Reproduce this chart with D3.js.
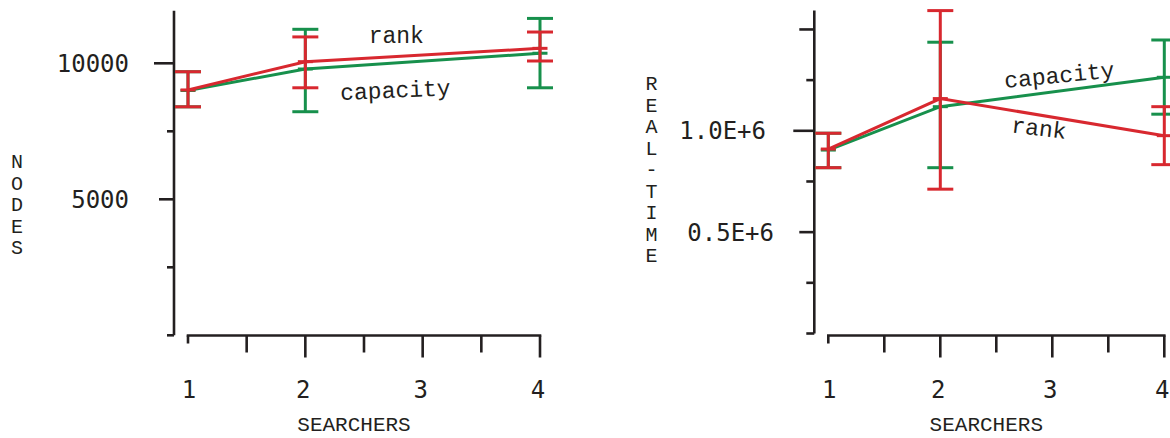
<!DOCTYPE html>
<html>
<head>
<meta charset="utf-8">
<script src="https://cdn.jsdelivr.net/npm/d3@7"></script>
<style>
  html, body { margin: 0; padding: 0; background: #ffffff; }
  svg { display: block; }
</style>
</head>
<body>
<svg id="chart" width="1170" height="438"></svg>
<script>
// Number of searchers at which each configuration was measured
const searchers = [1, 2, 4];
const xTickValues = [1, 2, 3, 4];
const xMinorTicks = [1.5, 2.5, 3.5];

// Nodes expanded (mean, low, high) per scheduling policy
const nodesRank = [9020, 10060, 10550];
const nodesRankLow = [8400, 9100, 10085];
const nodesRankHigh = [9690, 10970, 11150];
const nodesCapacity = [9000, 9790, 10370];
const nodesCapacityLow = [8400, 8220, 9100];
const nodesCapacityHigh = [9690, 11250, 11650];

// Real time (mean, low, high) per scheduling policy
const timeRank = [910000, 1159000, 976000];
const timeRankLow = [818000, 712000, 833000];
const timeRankHigh = [988000, 1593000, 1119000];
const timeCapacity = [905000, 1119000, 1264000];
const timeCapacityLow = [818000, 818000, 1082000];
const timeCapacityHigh = [988000, 1437000, 1448000];

// Y tick values and labels
const nodesTickValues = [0, 2500, 5000, 7500, 10000];
const nodesTickLabels = ["", "", "5000", "", "10000"];
const timeTickValues = [0, 250000, 500000, 750000, 1000000, 1250000, 1500000];
const timeTickLabels = ["", "", "0.5E+6", "", "1.0E+6", "", ""];

const RED = "#d8282f";
const GREEN = "#17904c";
const INK = "#231f20";
const NUM_FONT = "DejaVu Sans Mono, monospace";
const TXT_FONT = "'Liberation Mono', monospace";

const svg = d3.select("#chart");

function zip(mean, low, high) {
  return searchers.map((s, i) => ({ s, v: mean[i], lo: low[i], hi: high[i] }));
}

function drawPanel(cfg) {
  const g = svg.append("g");
  const x = d3.scaleLinear().domain([1, 4]).range(cfg.xRange);
  const y = d3.scaleLinear().domain(cfg.yDomain).range(cfg.yRange);

  // Y axis
  g.append("line")
    .attr("x1", cfg.yAxisX).attr("x2", cfg.yAxisX)
    .attr("y1", y(0)).attr("y2", y(cfg.yTop))
    .attr("stroke", INK).attr("stroke-width", 2.6);
  g.selectAll(".ytick").data(cfg.yTicks).join("line")
    .attr("x1", cfg.yAxisX).attr("x2", d => cfg.yAxisX - cfg.yTickLen(d))
    .attr("y1", d => y(d)).attr("y2", d => y(d))
    .attr("stroke", INK).attr("stroke-width", 2.6);
  g.selectAll(".ylab").data(cfg.yTicks.map((v, i) => ({ v, t: cfg.yLabels[i] })).filter(d => d.t))
    .join("text")
    .attr("x", d => cfg.yLabelX(d.v))
    .attr("y", d => y(d.v) + 8.5)
    .attr("text-anchor", "end")
    .attr("font-family", NUM_FONT).attr("font-size", 24)
    .attr("fill", INK)
    .text(d => d.t);

  // X axis
  g.append("line")
    .attr("x1", x(1) - 1.3).attr("x2", x(4) + 1.3)
    .attr("y1", cfg.xAxisY).attr("y2", cfg.xAxisY)
    .attr("stroke", INK).attr("stroke-width", 2.6);
  const xTicks = xTickValues.map(v => ({ v, len: v === 1 ? 8 : 22 }))
    .concat(xMinorTicks.map(v => ({ v, len: 17 })));
  g.selectAll(".xtick").data(xTicks).join("line")
    .attr("x1", d => x(d.v)).attr("x2", d => x(d.v))
    .attr("y1", cfg.xAxisY).attr("y2", d => cfg.xAxisY + d.len)
    .attr("stroke", INK).attr("stroke-width", 2.6);
  g.selectAll(".xlab").data(xTickValues).join("text")
    .attr("x", d => x(d) + (d === 1 ? 1 : -2))
    .attr("y", 398)
    .attr("text-anchor", "middle")
    .attr("font-family", NUM_FONT).attr("font-size", 24)
    .attr("fill", INK)
    .text(d => d);

  // Axis titles
  g.append("text")
    .attr("x", (x(1) + x(4)) / 2 - 10).attr("y", 431)
    .attr("text-anchor", "middle")
    .attr("font-family", TXT_FONT).attr("font-size", 21)
    .attr("fill", INK)
    .text("SEARCHERS");
  g.selectAll(".ytitle").data(cfg.yTitle.split("")).join("text")
    .attr("x", cfg.yTitleX)
    .attr("y", (d, i) => cfg.yTitleY + i * 21.5)
    .attr("text-anchor", "middle")
    .attr("font-family", TXT_FONT).attr("font-size", 20)
    .attr("fill", INK)
    .text(d => d);

  // Series: capacity underneath, rank on top
  const line = d3.line().x(d => x(d.s)).y(d => y(d.v));
  cfg.series.forEach(sr => {
    const sg = g.append("g");
    sg.append("path").datum(sr.data)
      .attr("d", line).attr("fill", "none")
      .attr("stroke", sr.color).attr("stroke-width", 3);
    sg.selectAll(".err").data(sr.data).join("line")
      .attr("x1", d => x(d.s)).attr("x2", d => x(d.s))
      .attr("y1", d => y(d.lo)).attr("y2", d => y(d.hi))
      .attr("stroke", sr.color).attr("stroke-width", 3);
    sg.selectAll(".capHi").data(sr.data).join("line")
      .attr("x1", d => x(d.s) - 13).attr("x2", d => x(d.s) + 13)
      .attr("y1", d => y(d.hi)).attr("y2", d => y(d.hi))
      .attr("stroke", sr.color).attr("stroke-width", 3);
    sg.selectAll(".capLo").data(sr.data).join("line")
      .attr("x1", d => x(d.s) - 13).attr("x2", d => x(d.s) + 13)
      .attr("y1", d => y(d.lo)).attr("y2", d => y(d.lo))
      .attr("stroke", sr.color).attr("stroke-width", 3);
    sg.selectAll(".mark").data(sr.data).join("line")
      .attr("x1", d => x(d.s) - 7.5).attr("x2", d => x(d.s) + 7.5)
      .attr("y1", d => y(d.v)).attr("y2", d => y(d.v))
      .attr("stroke", sr.color).attr("stroke-width", 3);
  });

  // Series names
  cfg.notes.forEach(n => {
    const px = x(n.x), py = y(n.y);
    g.append("text")
      .attr("x", px).attr("y", py)
      .attr("transform", `rotate(${n.angle},${px},${py})`)
      .attr("font-family", TXT_FONT).attr("font-size", 23)
      .attr("fill", INK)
      .text(n.text);
  });
}

drawPanel({
  xRange: [188, 540],
  yDomain: [0, 10000],
  yRange: [335.3, 63.3],
  yTop: 11930,
  yAxisX: 174,
  xAxisY: 335.5,
  yTicks: nodesTickValues,
  yLabels: nodesTickLabels,
  yTickLen: v => (v === 10000 ? 20 : v === 5000 ? 15 : 7),
  yLabelX: v => 129,
  yTitle: "NODES",
  yTitleX: 17,
  yTitleY: 168,
  series: [
    { color: GREEN, data: zip(nodesCapacity, nodesCapacityLow, nodesCapacityHigh) },
    { color: RED, data: zip(nodesRank, nodesRankLow, nodesRankHigh) }
  ],
  notes: [
    { text: "rank", x: 2.54, y: 10746, angle: 0 },
    { text: "capacity", x: 2.30, y: 8650, angle: -2.5 }
  ]
});

drawPanel({
  xRange: [828.3, 1164.3],
  yDomain: [0, 1000000],
  yRange: [333.5, 130.8],
  yTop: 1593000,
  yAxisX: 814.3,
  xAxisY: 335.5,
  yTicks: timeTickValues,
  yLabels: timeTickLabels,
  yTickLen: v => (v === 1000000 ? 21 : v === 500000 || v === 1500000 ? 15 : 8),
  yLabelX: v => (v === 1000000 ? 766 : 774),
  yTitle: "REAL-TIME",
  yTitleX: 651.5,
  yTitleY: 90,
  series: [
    { color: GREEN, data: zip(timeCapacity, timeCapacityLow, timeCapacityHigh) },
    { color: RED, data: zip(timeRank, timeRankLow, timeRankHigh) }
  ],
  notes: [
    { text: "capacity", x: 2.578, y: 1211000, angle: -5.6 },
    { text: "rank", x: 2.629, y: 993000, angle: 7 }
  ]
});
</script>
</body>
</html>
